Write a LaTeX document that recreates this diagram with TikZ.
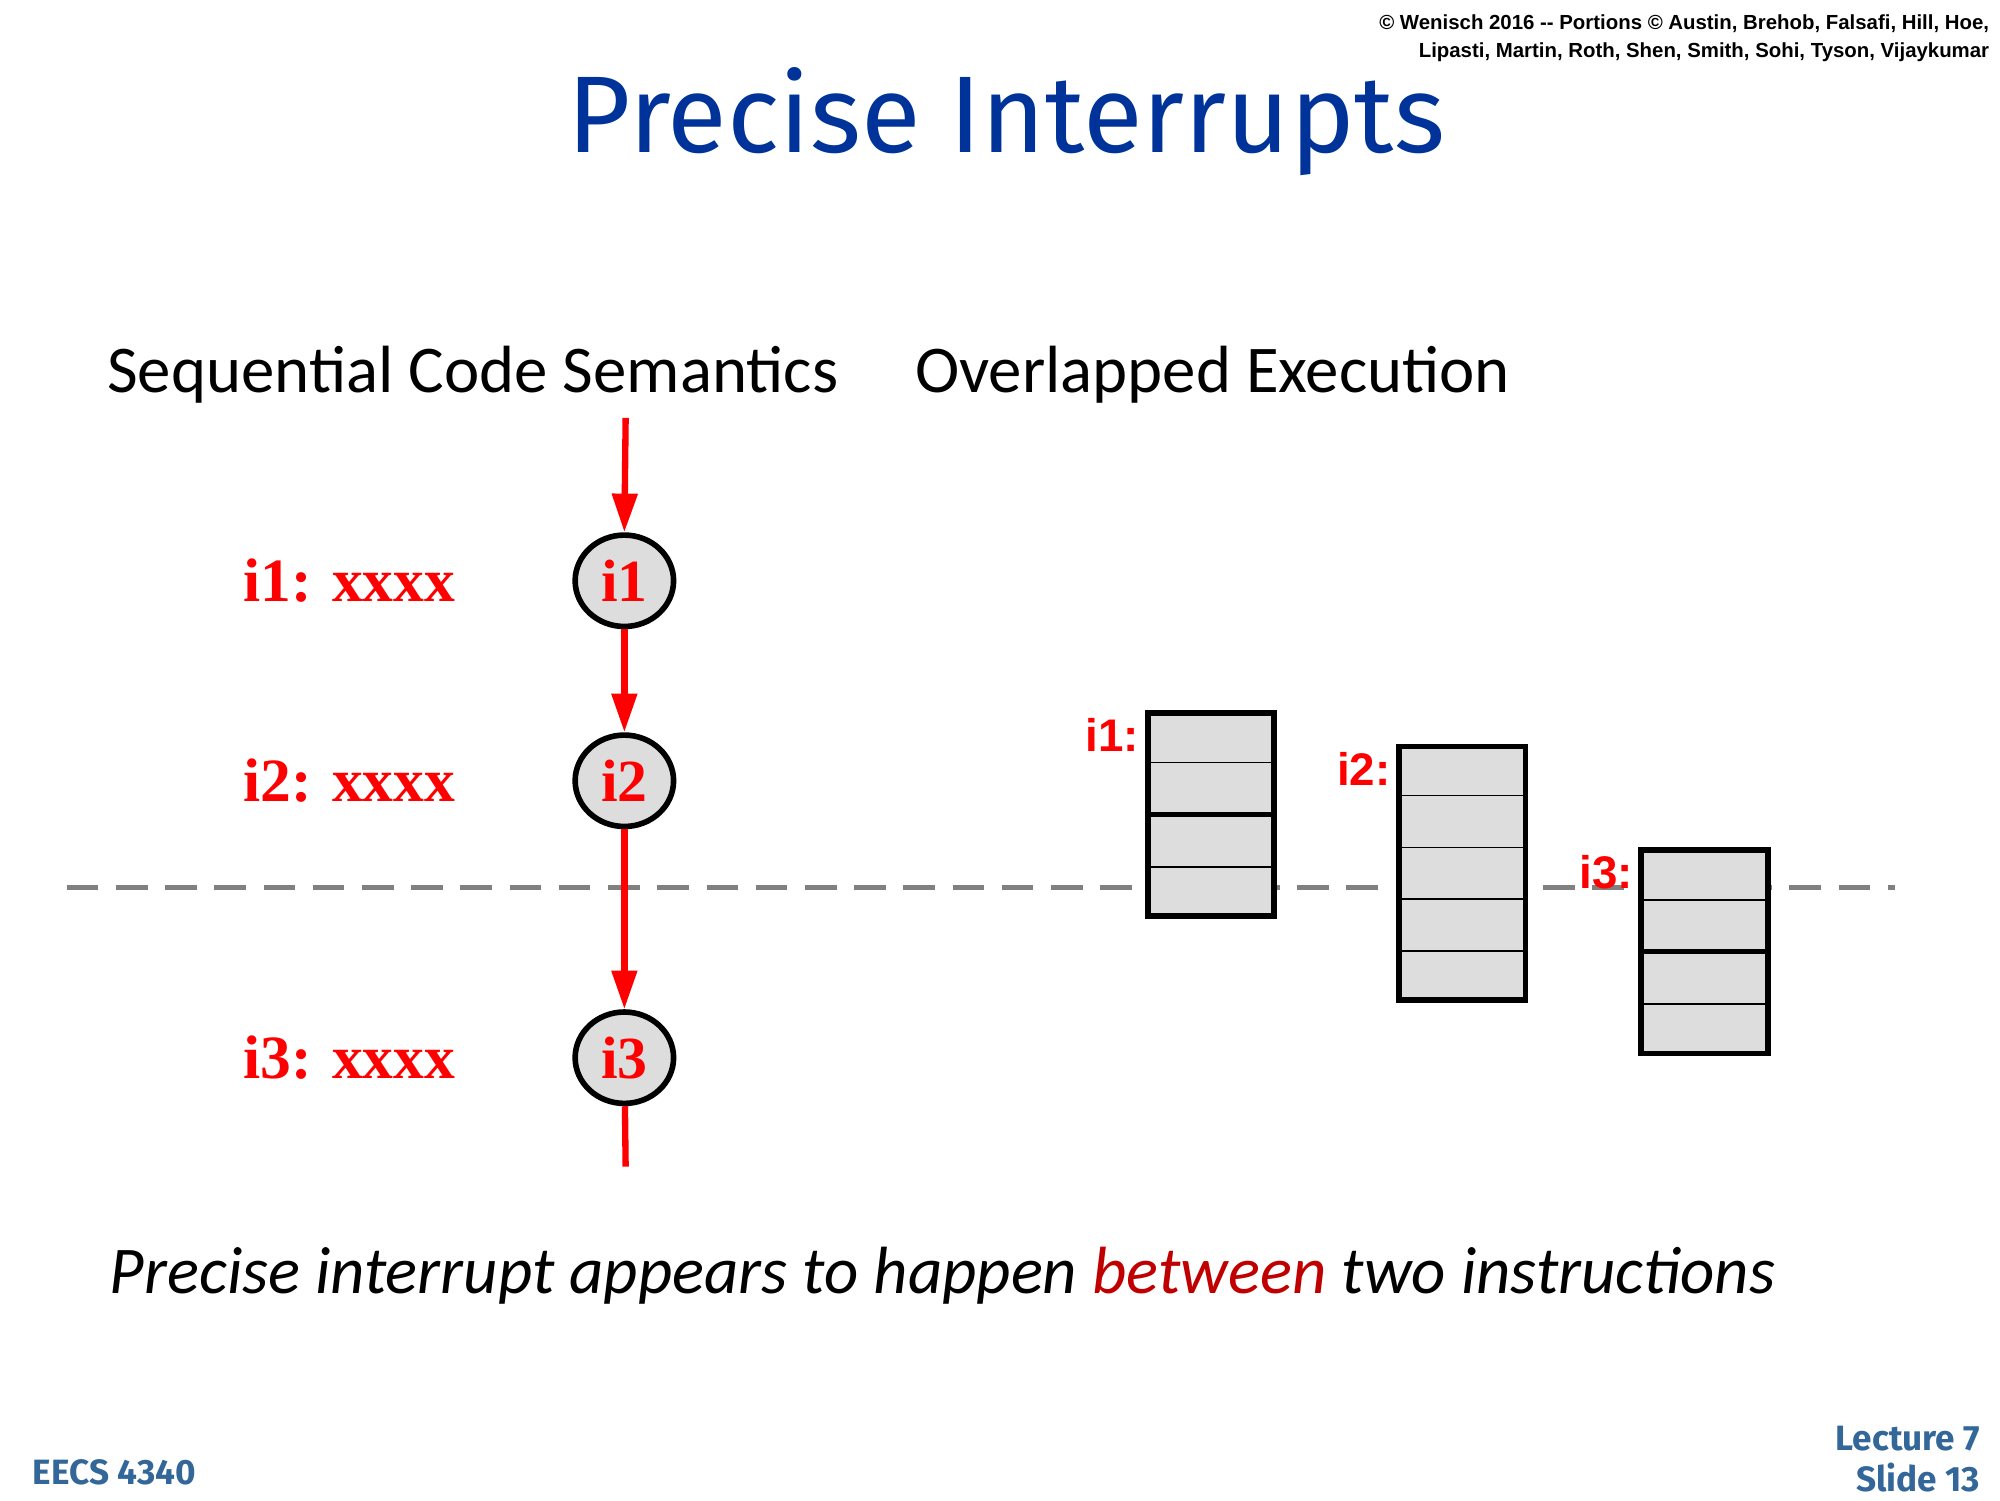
\documentclass[tikz,border=0pt]{standalone}
\usepackage{fontspec}
\setmainfont{Carlito}
\newfontfamily\comicfont{Fira Sans}
\newfontfamily\serifbold{Liberation Serif}
\newfontfamily\arialfont{Liberation Sans}
\usetikzlibrary{arrows.meta,calc}
\definecolor{titleblue}{RGB}{0,51,153}
\definecolor{footblue}{RGB}{51,102,153}
\definecolor{darkred}{RGB}{192,0,0}
\definecolor{boxgray}{RGB}{221,221,221}
\tikzset{
  flow/.style={red,line width=1.8pt,-{Triangle[length=11pt,width=7pt]}},
  instr/.style={ellipse,draw=black,line width=1.6pt,fill=boxgray,minimum width=28pt,minimum height=26pt,inner sep=0pt,
    text=red,font=\serifbold\bfseries\fontsize{17}{17}\selectfont},
  code/.style={text=red,anchor=west,font=\serifbold\bfseries\fontsize{17.5}{17.5}\selectfont},
  stage/.style={draw=black,line width=1.6pt,fill=boxgray,minimum width=36pt,inner sep=0pt,anchor=north west},
  stagelbl/.style={text=red,anchor=north east,inner sep=0pt,font=\arialfont\bfseries\fontsize{13}{13}\selectfont},
}
\usetikzlibrary{shapes.geometric}
\begin{document}
\begin{tikzpicture}[x=0.01282cm,y=-0.01282cm]
\useasboundingbox (0,0) rectangle (1560,1170);
% header
\node[anchor=north east,align=right,inner sep=0pt,font=\arialfont\bfseries\fontsize{5.8}{7.8}\selectfont] (copy) at (1552,11)
  {© Wenisch 2016 -- Portions © Austin, Brehob, Falsafi, Hill, Hoe,\\Lipasti, Martin, Roth, Shen, Smith, Sohi, Tyson, Vijaykumar};
\node[text=titleblue,font=\comicfont\fontsize{31}{31}\selectfont] (title) at (785,95) {Precise Interrupts};
\node[anchor=west,font=\fontsize{19}{19}\selectfont] (seq) at (74,292) {Sequential Code Semantics};
\node[anchor=west,font=\fontsize{19}{19}\selectfont] (ovl) at (704,292) {Overlapped Execution};
% interrupt point
\draw[gray,line width=1.5pt,dash pattern=on 9pt off 5pt] (52,692) -- (1478,692);
% sequential instructions
\coordinate (top) at (488,326);
\coordinate (bot) at (488,910);
\foreach \i/\y in {1/453,2/609,3/825}{
  \node[instr] (c\i) at (487,\y) {i\i};
  \node[code] (l\i) at (180,\y) {i\i: xxxx};
}
\draw[flow] (top) -- (c1.north);
\draw[flow] (c1) -- (c2.north);
\draw[flow] (c2) -- (c3.north);
\draw[red,line width=1.8pt] (c3) -- (bot);
% pipelined instructions
\foreach \i/\x/\y/\n in {1/893/554/4,2/1089/580/5,3/1278/661/4}{
  \node[stage,minimum height=\n*14.44pt] (b\i) at (\x,\y) {};
  \foreach \k in {1,...,\n}{
    \ifnum\k<\n
    \draw[line width=0.5pt] ($(b\i.north west)!\k/\n!(b\i.south west)$) -- ($(b\i.north east)!\k/\n!(b\i.south east)$);
    \fi
  }
  \node[stagelbl] (s\i) at ($(b\i.north west)+(-4,6)$) {i\i:};
}
\draw[line width=1.4pt] ($(b1.north west)!0.5!(b1.south west)$) -- ($(b1.north east)!0.5!(b1.south east)$);
\draw[line width=1.4pt] ($(b3.north west)!0.5!(b3.south west)$) -- ($(b3.north east)!0.5!(b3.south east)$);
% caption
\node[anchor=west,font=\itshape\fontsize{19}{19}\selectfont] (cap) at (76,995)
  {Precise interrupt appears to happen \textcolor{darkred}{between} two instructions};
% footer
\node[anchor=west,text=footblue,font=\comicfont\bfseries\fontsize{10}{10}\selectfont] (course) at (16,1148) {EECS 4340};
\node[anchor=east,align=right,text=footblue,font=\comicfont\bfseries\fontsize{10}{11.5}\selectfont] (slide) at (1554,1138) {Lecture 7\\Slide 13};
\end{tikzpicture}
\end{document}
